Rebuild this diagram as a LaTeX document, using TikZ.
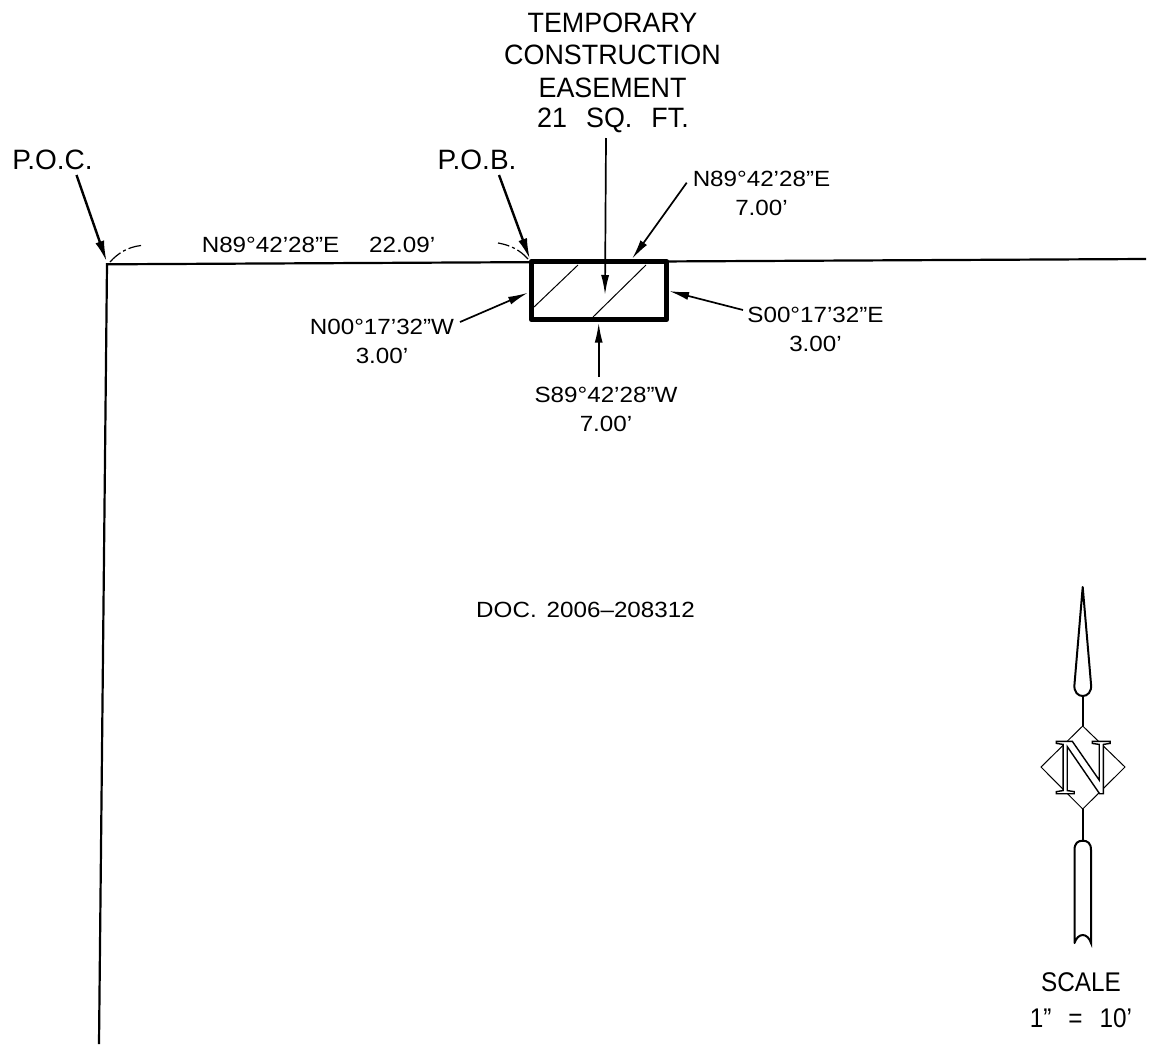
\documentclass[tikz,border=0pt]{standalone}
\usepackage{fontspec}
\setmainfont{Liberation Sans}
\newfontfamily\nserif{Liberation Serif}
\newfontfamily\bigf[FakeStretch=0.96]{Liberation Sans}
\newfontfamily\smallf[FakeStretch=1.1]{Liberation Sans}
\newfontfamily\scalef[FakeStretch=0.9]{Liberation Sans}
\usetikzlibrary{arrows.meta}
\tikzset{
  x=1pt,y=-1pt,
  biglabel/.style={inner sep=0pt,align=center,font=\bigf\fontsize{28}{32.5}\selectfont},
  pointlabel/.style={inner sep=0pt,align=center,font=\fontsize{28}{32}\selectfont},
  smalllabel/.style={inner sep=0pt,align=center,font=\smallf\fontsize{22}{29}\selectfont},
  scalelabel/.style={inner sep=0pt,align=center,font=\scalef\fontsize{27}{36}\selectfont},
  lead/.style={line width=2.4pt,-{Latex[length=21pt,width=9pt]}},
  leadsmall/.style={line width=1.7pt,-{Latex[length=20pt,width=8pt]}},
  bound/.style={line width=2.2pt},
  hatchline/.style={line width=1pt},
  anglearc/.style={line width=1.2pt,dash pattern=on 14pt off 3pt on 3pt off 3pt},
  northline/.style={line width=2pt},
}
\begin{document}
\begin{tikzpicture}
\useasboundingbox (0,0) rectangle (1150,1047);
% boundary
\coordinate (corner) at (107,264.3);
\coordinate (east) at (1146,259);
\coordinate (south) at (99,1044);
\draw[bound] (east) -- (corner) -- (south);
% easement
\draw[line width=5.5pt,fill=white,line join=round] (531.5,261.5) rectangle (666.5,319.5);
\coordinate (h1a) at (534,307); \coordinate (h1b) at (578,265);
\coordinate (h2a) at (593,317); \coordinate (h2b) at (646,265);
\draw[hatchline] (h1a) -- (h1b);
\draw[hatchline] (h2a) -- (h2b);
% labels
\node[biglabel] (tce) at (612.5,55) {TEMPORARY\\CONSTRUCTION\\EASEMENT};
\node[biglabel] (area) at (613,120) {21\hspace{19pt}SQ.\hspace{19pt}FT.};
\node[pointlabel] (poc) at (52.5,160) {P.O.C.};
\node[pointlabel] (pob) at (477,160) {P.O.B.};
\node[smalllabel] (call1) at (318.5,245) {N89°42’28”E\hspace{30pt}22.09’};
\node[smalllabel] (call2) at (761.5,193.5) {N89°42’28”E\\7.00’};
\node[smalllabel] (call3) at (382,341.7) {N00°17’32”W\\3.00’};
\node[smalllabel] (call4) at (815.5,329) {S00°17’32”E\\3.00’};
\node[smalllabel] (call5) at (606,409) {S89°42’28”W\\7.00’};
\node[smalllabel] (doc) at (585.5,609.5) {DOC.\hspace{10pt}2006–208312};
\node[scalelabel] (scale) at (1081,1000) {SCALE\\1”\hspace{17pt}=\hspace{17pt}10’};
% leaders
\coordinate (pocS) at (76.5,175); \coordinate (pocE) at (106.7,261.7);
\coordinate (pobS) at (499,175);  \coordinate (pobE) at (530,259.3);
\coordinate (areaS) at (606,138); \coordinate (areaE) at (605,295);
\coordinate (c2S) at (686.7,182.7); \coordinate (c2E) at (632,259);
\coordinate (c3S) at (460,322);   \coordinate (c3E) at (528,292.7);
\coordinate (c4S) at (743,310);   \coordinate (c4E) at (669,291);
\coordinate (c5S) at (598.7,377); \coordinate (c5E) at (598.7,322.7);
\draw[lead] (pocS) -- (pocE);
\draw[lead] (pobS) -- (pobE);
\draw[leadsmall] (areaS) -- (areaE);
\draw[leadsmall] (c2S) -- (c2E);
\draw[leadsmall] (c3S) -- (c3E);
\draw[leadsmall] (c4S) -- (c4E);
\draw[leadsmall] (c5S) -- (c5E);
% angle arcs
\draw[anglearc] (110,262) .. controls (118,253) and (128,247) .. (141,245.5);
\draw[anglearc] (528,259) .. controls (520,250) and (510,245) .. (498,243);
% north arrow
\draw[northline,line join=round] (1082.7,587) -- (1074.5,684) .. controls (1073.5,692) and (1078,696) .. (1082.7,696)
  .. controls (1087.4,696) and (1092,692) .. (1091,684) -- cycle;
\coordinate (st1) at (1082.7,696); \coordinate (st2) at (1082.7,726);
\coordinate (st3) at (1082.7,809); \coordinate (st4) at (1082.7,840.7);
\draw[northline,line width=2.2pt] (st1) -- (st2);
\draw[northline,line width=2.2pt] (st3) -- (st4);
\draw[line width=1pt] (st2) -- (1125,767) -- (st3) -- (1041,767) -- cycle;
\node[inner sep=0pt,font=\nserif\fontsize{80}{80}\selectfont] (nletter) at (1083,767.5)
  {\special{pdf:code q 2 Tr 1.4 w 1 1 1 rg 0 0 0 RG}N\special{pdf:code 0 Tr Q}};
\draw[northline,line cap=round] (1074.5,943) -- (1074.5,850) .. controls (1074.5,843) and (1078,840.7) .. (1082.7,840.7)
  .. controls (1087.4,840.7) and (1091,843) .. (1091,850) -- (1091,943)
  .. controls (1089.5,938) and (1086,935) .. (1082.7,935) .. controls (1079.4,935) and (1076,938) .. (1074.5,943);
\end{tikzpicture}
\end{document}
